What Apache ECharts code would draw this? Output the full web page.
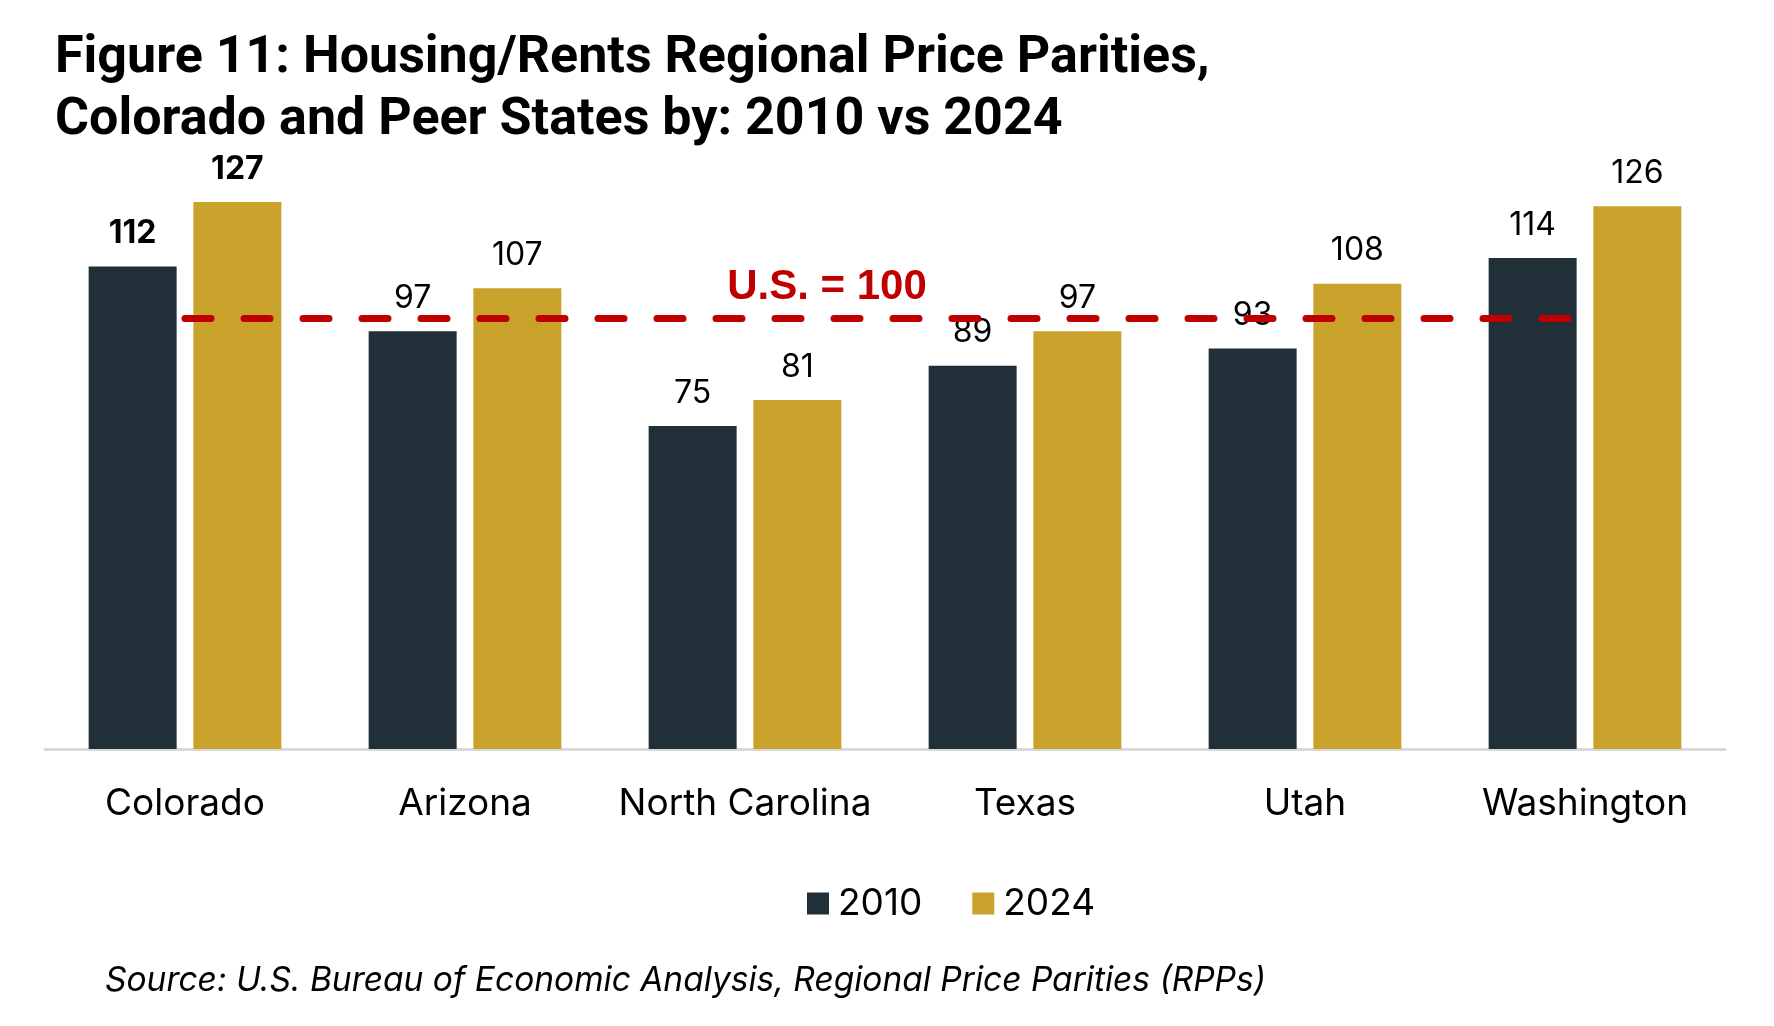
<!DOCTYPE html>
<html>
<head>
<meta charset="utf-8">
<title>Housing/Rents Regional Price Parities</title>
<script src="https://cdn.jsdelivr.net/npm/echarts@6/dist/echarts.min.js"></script>
<style>
  html, body { margin: 0; padding: 0; background: #fff; }
  #rpp_bars { width: 1774px; height: 1026px; }
</style>
</head>
<body>
<div id="rpp_bars"></div>
<script>
// Chart data
// ------------------------------

var categories = ["Colorado", "Arizona", "North Carolina", "Texas", "Utah", "Washington"];
var seriesNames = ["2010", "2024"];
var values2010 = [112, 97, 75, 89, 93, 114];
var values2024 = [127, 107, 81, 97, 108, 126];
var usAverage = 100;
var highlightState = "Colorado";

// Setup module
// ------------------------------

var RppBarChart = (function () {
  // Bold data labels for the highlighted state
  var _buildData = function (values) {
    return values.map(function (v, i) {
      if (categories[i] === highlightState) {
        return { value: v, label: { fontWeight: "bold" } };
      }
      return v;
    });
  };

  var _rppBars = function () {
    if (typeof echarts == "undefined") {
      console.warn("Warning - echarts.min.js is not loaded.");
      return;
    }

    var bars_element = document.getElementById("rpp_bars");
    if (!bars_element) return;

    var bars = echarts.init(bars_element);

    var labelStyle = {
      show: true,
      position: "top",
      distance: 17,
      color: "#000",
      fontFamily: "Inter, sans-serif",
      fontSize: 32,
    };

    bars.setOption({
      color: ["#202f38", "#c9a22c"],
      animation: false,

      textStyle: {
        fontFamily: "Inter, sans-serif",
      },

      title: [
        {
          text: "Figure 11: Housing/Rents Regional Price Parities,\nColorado and Peer States by: 2010 vs 2024",
          left: 55,
          top: 28,
          padding: 0,
          textStyle: {
            fontFamily: "Roboto, sans-serif",
            fontWeight: "bold",
            fontSize: 52,
            lineHeight: 62,
            color: "#000",
          },
        },
        {
          text: "Source: U.S. Bureau of Economic Analysis, Regional Price Parities (RPPs)",
          left: 105,
          top: 964,
          padding: 0,
          textStyle: {
            fontFamily: "Inter, sans-serif",
            fontStyle: "italic",
            fontWeight: "normal",
            fontSize: 33.5,
            color: "#000",
          },
        },
      ],

      legend: {
        data: seriesNames,
        left: 807,
        top: 885,
        padding: 0,
        icon: "rect",
        itemWidth: 22,
        itemHeight: 22,
        itemGap: 50,
        textStyle: {
          fontFamily: "Inter, sans-serif",
          fontSize: 37,
          color: "#000",
          padding: [0, 0, 0, 4],
        },
      },

      grid: {
        left: 45,
        right: 49,
        top: 146,
        bottom: 277,
        containLabel: false,
      },

      xAxis: {
        type: "category",
        data: categories,
        axisTick: { show: false },
        axisLine: {
          lineStyle: { color: "#d9d9d9", width: 3 },
        },
        axisLabel: {
          interval: 0,
          margin: 36,
          color: "#000",
          fontFamily: "Inter, sans-serif",
          fontSize: 37,
        },
      },

      yAxis: {
        type: "value",
        min: 0,
        max: 140,
        show: false,
        splitLine: { show: false },
      },

      series: [
        {
          name: seriesNames[0],
          type: "bar",
          barWidth: 88,
          barGap: "19%",
          data: _buildData(values2010),
          label: labelStyle,
        },
        {
          name: seriesNames[1],
          type: "bar",
          barWidth: 88,
          barGap: "19%",
          data: _buildData(values2024),
          label: labelStyle,
        },
        {
          // Carrier for the U.S. reference line, centred on categories
          name: "U.S.",
          type: "line",
          data: [],
          silent: true,
          markLine: {
            silent: true,
            symbol: ["none", "none"],
            lineStyle: {
              color: "#c00000",
              width: 7,
              type: [26, 33],
              cap: "round",
            },
            label: {
              show: true,
              position: "middle",
              formatter: "U.S. = " + usAverage,
              color: "#c00000",
              fontFamily: "Liberation Sans, Arial, sans-serif",
              fontWeight: "bold",
              fontSize: 42,
              distance: 10,
              offset: [-58, 0],
            },
            data: [
              [
                { coord: [categories[0], usAverage] },
                { coord: [categories[categories.length - 1], usAverage] },
              ],
            ],
          },
        },
      ],
    });

    // Resize chart
    var resizeChart;
    window.addEventListener("resize", function () {
      clearTimeout(resizeChart);
      resizeChart = setTimeout(function () {
        bars.resize();
      }, 200);
    });
  };

  return {
    init: function () {
      _rppBars();
    },
  };
})();

document.addEventListener("DOMContentLoaded", function () {
  RppBarChart.init();
});
</script>
</body>
</html>
